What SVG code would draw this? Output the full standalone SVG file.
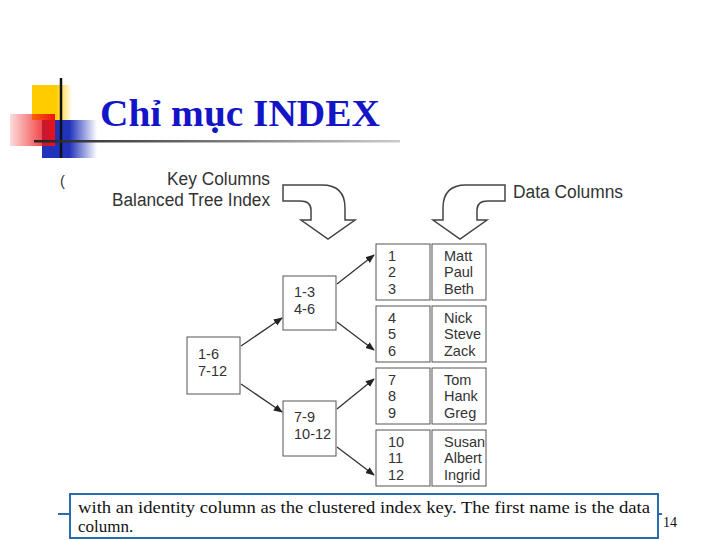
<svg xmlns="http://www.w3.org/2000/svg" width="720" height="540" viewBox="0 0 720 540">
<defs>
<linearGradient id="yl" x1="0" y1="0" x2="1" y2="0"><stop offset="0.6" stop-color="#ffcc00"/><stop offset="1" stop-color="#ffcc00" stop-opacity="0"/></linearGradient>
<linearGradient id="rd" x1="1" y1="0" x2="0" y2="0"><stop offset="0" stop-color="#ee1111"/><stop offset="1" stop-color="#ee1111" stop-opacity="0.15"/></linearGradient>
<linearGradient id="bl" x1="0" y1="0" x2="1" y2="0"><stop offset="0.5" stop-color="#2233bb"/><stop offset="1" stop-color="#2233bb" stop-opacity="0"/></linearGradient>
<linearGradient id="ln" x1="0" y1="0" x2="1" y2="0"><stop offset="0" stop-color="#222"/><stop offset="1" stop-color="#ccc"/></linearGradient>
<marker id="ah" viewBox="0 0 10 10" refX="9" refY="5" markerWidth="7" markerHeight="7" orient="auto"><path d="M0,1 L10,5 L0,9 z" fill="#222"/></marker>
<style>
.bx{fill:#fff;stroke:#555;stroke-width:1}
.t{font-family:"Liberation Sans",Arial,sans-serif;font-size:14.5px;fill:#333}
.c{stroke:#333;stroke-width:1.3;fill:none;marker-end:url(#ah)}
.fa{fill:#fff;stroke:#444;stroke-width:1.5}
.lb{font-family:"Liberation Sans",Arial,sans-serif;font-size:18px;fill:#333}
</style>
</defs>
<rect width="720" height="540" fill="#fff"/>
<g id="decor">
<rect x="32" y="85" width="40" height="35" fill="url(#yl)"/>
<rect x="42" y="120" width="55" height="38" fill="url(#bl)"/>
<rect x="10" y="114" width="45" height="32" fill="url(#rd)"/>
<line x1="61" y1="78" x2="61" y2="158" stroke="#111" stroke-width="2.5"/>
<rect x="34" y="140" width="366" height="2.5" fill="url(#ln)"/>
</g>
<text x="100" y="126" font-family="Liberation Serif,serif" font-weight="bold" font-size="38" fill="#1515c8" textLength="280" lengthAdjust="spacingAndGlyphs">Chỉ mục INDEX</text>
<text x="60" y="186" class="t" font-size="16" fill="#000">(</text>
<g id="labels">
<text x="270" y="185" class="lb" text-anchor="end" textLength="103" lengthAdjust="spacingAndGlyphs">Key Columns</text>
<text x="270" y="206" class="lb" text-anchor="end" textLength="158" lengthAdjust="spacingAndGlyphs">Balanced Tree Index</text>
<text x="513" y="198" class="lb" textLength="110" lengthAdjust="spacingAndGlyphs">Data Columns</text>
</g>
<g id="fat-arrows">
<path class="fa" d="M283,185 L322,185 Q345,185 345,208 L345,220 L355,220 L328,239 L301,220 L311,220 L311,210 Q311,201 300,201 L283,201 Z"/>
<path class="fa" d="M505,185 L466,185 Q443,185 443,208 L443,220 L433,220 L460,239 L487,220 L477,220 L477,210 Q477,201 488,201 L505,201 Z"/>
</g>
<g id="connectors">
<line class="c" x1="241" y1="346" x2="282" y2="318"/>
<line class="c" x1="241" y1="384" x2="282" y2="412"/>
<line class="c" x1="337" y1="284" x2="374" y2="255"/>
<line class="c" x1="337" y1="322" x2="374" y2="350"/>
<line class="c" x1="337" y1="409" x2="374" y2="379"/>
<line class="c" x1="337" y1="447" x2="374" y2="475"/>
</g>
<g id="root"><rect class="bx" x="187" y="337" width="53" height="57"/><text class="t" x="198" y="359">1-6</text><text class="t" x="198" y="376">7-12</text></g>
<g id="mid1"><rect class="bx" x="283" y="276" width="53" height="54"/><text class="t" x="294" y="297">1-3</text><text class="t" x="294" y="314">4-6</text></g>
<g id="mid2"><rect class="bx" x="283" y="401" width="53" height="55"/><text class="t" x="294" y="422">7-9</text><text class="t" x="294" y="439">10-12</text></g>
<g id="leaf1"><rect class="bx" x="376" y="244" width="54" height="56"/><rect class="bx" x="432" y="244" width="54" height="56"/><text class="t" x="388" y="261">1</text><text class="t" x="388" y="277">2</text><text class="t" x="388" y="294">3</text><text class="t" x="444" y="261">Matt</text><text class="t" x="444" y="277">Paul</text><text class="t" x="444" y="294">Beth</text></g>
<g id="leaf2"><rect class="bx" x="376" y="306" width="54" height="56"/><rect class="bx" x="432" y="306" width="54" height="56"/><text class="t" x="388" y="323">4</text><text class="t" x="388" y="339">5</text><text class="t" x="388" y="356">6</text><text class="t" x="444" y="323">Nick</text><text class="t" x="444" y="339">Steve</text><text class="t" x="444" y="356">Zack</text></g>
<g id="leaf3"><rect class="bx" x="376" y="368" width="54" height="56"/><rect class="bx" x="432" y="368" width="54" height="56"/><text class="t" x="388" y="385">7</text><text class="t" x="388" y="401">8</text><text class="t" x="388" y="418">9</text><text class="t" x="444" y="385">Tom</text><text class="t" x="444" y="401">Hank</text><text class="t" x="444" y="418">Greg</text></g>
<g id="leaf4"><rect class="bx" x="376" y="430" width="54" height="56"/><rect class="bx" x="432" y="430" width="54" height="56"/><text class="t" x="388" y="447">10</text><text class="t" x="388" y="463">11</text><text class="t" x="388" y="480">12</text><text class="t" x="444" y="447">Susan</text><text class="t" x="444" y="463">Albert</text><text class="t" x="444" y="480">Ingrid</text></g>
<g id="caption">
<line x1="58" y1="514" x2="662" y2="514" stroke="#2a6cb0" stroke-width="2"/>
<rect x="70" y="494" width="588" height="44" fill="#fff" stroke="#2a6cb0" stroke-width="2"/>
<text x="78" y="513" font-family="Liberation Serif,serif" font-size="17" fill="#111" textLength="572" lengthAdjust="spacingAndGlyphs">with an identity column as the clustered index key. The first name is the data</text>
<text x="78" y="532" font-family="Liberation Serif,serif" font-size="17" fill="#111">column.</text>
<text x="663" y="527" font-family="Liberation Serif,serif" font-size="14" fill="#111">14</text>
</g>
</svg>
